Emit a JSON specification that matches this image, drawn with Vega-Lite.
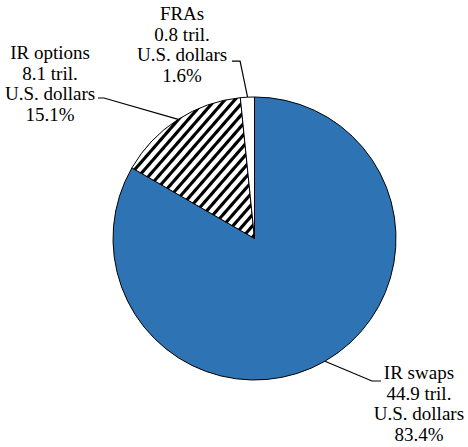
{
  "$schema": "https://vega.github.io/schema/vega-lite/v6.json",
  "width": 468,
  "height": 447,
  "padding": 0,
  "autosize": {"type": "none"},
  "background": "white",
  "config": {"view": {"stroke": null}},
  "datasets": {
    "slices": [
      {"name": "IR swaps", "share": 83.4, "idx": 1},
      {"name": "IR options", "share": 15.1, "idx": 2},
      {"name": "FRAs", "share": 1.6, "idx": 3}
    ],
    "labels": [
      {"name": "FRAs", "lx": -0.512, "ly": 1.650, "label": "FRAs\n0.8 tril.\nU.S. dollars\n1.6%"},
      {"name": "IR options", "lx": -1.445, "ly": 1.372, "label": "IR options\n8.1 tril.\nU.S. dollars\n15.1%"},
      {"name": "IR swaps", "lx": 1.162, "ly": -0.890, "label": "IR swaps\n44.9 tril.\nU.S. dollars\n83.4%"}
    ],
    "leaders": [
      {"name": "IR options", "k": 1, "lx": -1.106, "ly": 0.993},
      {"name": "IR options", "k": 2, "lx": -1.064, "ly": 0.993},
      {"name": "IR options", "k": 3, "lx": -0.539, "ly": 0.842},
      {"name": "FRAs", "k": 1, "lx": -0.159, "ly": 1.254},
      {"name": "FRAs", "k": 2, "lx": -0.102, "ly": 1.254},
      {"name": "FRAs", "k": 3, "lx": -0.049, "ly": 0.999},
      {"name": "IR swaps", "k": 1, "lx": 0.498, "ly": -0.867},
      {"name": "IR swaps", "k": 2, "lx": 0.830, "ly": -1.007},
      {"name": "IR swaps", "k": 3, "lx": 0.894, "ly": -1.007}
    ]
  },
  "layer": [
    {
      "data": {"name": "slices"},
      "mark": {"type": "arc", "outerRadius": 141.5, "stroke": "black", "strokeWidth": 1},
      "encoding": {
        "x": {"datum": 0, "type": "quantitative", "scale": {"domain": [-1.7986, 1.5088], "nice": false, "zero": false}, "axis": null},
        "y": {"datum": 0, "type": "quantitative", "scale": {"domain": [-1.4735, 1.6855], "nice": false, "zero": false}, "axis": null},
        "theta": {"field": "share", "type": "quantitative", "stack": true},
        "order": {"field": "idx", "type": "quantitative"},
        "fill": {
          "condition": [
            {"test": "datum.name === 'IR options'", "value": {
              "gradient": "linear", "x1": 0, "y1": 0, "x2": 1, "y2": 1,
              "stops": [
                {"offset": 0, "color": "white"},
                {"offset": 0.016, "color": "white"}, {"offset": 0.021, "color": "black"}, {"offset": 0.033, "color": "black"}, {"offset": 0.038, "color": "white"},
                {"offset": 0.056, "color": "white"}, {"offset": 0.061, "color": "black"}, {"offset": 0.073, "color": "black"}, {"offset": 0.078, "color": "white"},
                {"offset": 0.096, "color": "white"}, {"offset": 0.101, "color": "black"}, {"offset": 0.113, "color": "black"}, {"offset": 0.118, "color": "white"},
                {"offset": 0.136, "color": "white"}, {"offset": 0.141, "color": "black"}, {"offset": 0.153, "color": "black"}, {"offset": 0.158, "color": "white"},
                {"offset": 0.176, "color": "white"}, {"offset": 0.181, "color": "black"}, {"offset": 0.193, "color": "black"}, {"offset": 0.198, "color": "white"},
                {"offset": 0.216, "color": "white"}, {"offset": 0.221, "color": "black"}, {"offset": 0.233, "color": "black"}, {"offset": 0.238, "color": "white"},
                {"offset": 0.256, "color": "white"}, {"offset": 0.261, "color": "black"}, {"offset": 0.273, "color": "black"}, {"offset": 0.278, "color": "white"},
                {"offset": 0.296, "color": "white"}, {"offset": 0.301, "color": "black"}, {"offset": 0.313, "color": "black"}, {"offset": 0.318, "color": "white"},
                {"offset": 0.336, "color": "white"}, {"offset": 0.341, "color": "black"}, {"offset": 0.353, "color": "black"}, {"offset": 0.358, "color": "white"},
                {"offset": 0.376, "color": "white"}, {"offset": 0.381, "color": "black"}, {"offset": 0.393, "color": "black"}, {"offset": 0.398, "color": "white"},
                {"offset": 0.416, "color": "white"}, {"offset": 0.421, "color": "black"}, {"offset": 0.433, "color": "black"}, {"offset": 0.438, "color": "white"},
                {"offset": 0.456, "color": "white"}, {"offset": 0.461, "color": "black"}, {"offset": 0.473, "color": "black"}, {"offset": 0.478, "color": "white"},
                {"offset": 0.496, "color": "white"}, {"offset": 0.501, "color": "black"}, {"offset": 0.513, "color": "black"}, {"offset": 0.518, "color": "white"},
                {"offset": 0.536, "color": "white"}, {"offset": 0.541, "color": "black"}, {"offset": 0.553, "color": "black"}, {"offset": 0.558, "color": "white"},
                {"offset": 0.576, "color": "white"}, {"offset": 0.581, "color": "black"}, {"offset": 0.593, "color": "black"}, {"offset": 0.598, "color": "white"},
                {"offset": 0.616, "color": "white"}, {"offset": 0.621, "color": "black"}, {"offset": 0.633, "color": "black"}, {"offset": 0.638, "color": "white"},
                {"offset": 0.656, "color": "white"}, {"offset": 0.661, "color": "black"}, {"offset": 0.673, "color": "black"}, {"offset": 0.678, "color": "white"},
                {"offset": 0.696, "color": "white"}, {"offset": 0.701, "color": "black"}, {"offset": 0.713, "color": "black"}, {"offset": 0.718, "color": "white"},
                {"offset": 0.736, "color": "white"}, {"offset": 0.741, "color": "black"}, {"offset": 0.753, "color": "black"}, {"offset": 0.758, "color": "white"},
                {"offset": 0.776, "color": "white"}, {"offset": 0.781, "color": "black"}, {"offset": 0.793, "color": "black"}, {"offset": 0.798, "color": "white"},
                {"offset": 0.816, "color": "white"}, {"offset": 0.821, "color": "black"}, {"offset": 0.833, "color": "black"}, {"offset": 0.838, "color": "white"},
                {"offset": 0.856, "color": "white"}, {"offset": 0.861, "color": "black"}, {"offset": 0.873, "color": "black"}, {"offset": 0.878, "color": "white"},
                {"offset": 0.896, "color": "white"}, {"offset": 0.901, "color": "black"}, {"offset": 0.913, "color": "black"}, {"offset": 0.918, "color": "white"},
                {"offset": 0.936, "color": "white"}, {"offset": 0.941, "color": "black"}, {"offset": 0.953, "color": "black"}, {"offset": 0.958, "color": "white"},
                {"offset": 0.976, "color": "white"}, {"offset": 0.981, "color": "black"}, {"offset": 0.993, "color": "black"}, {"offset": 0.998, "color": "white"},
                {"offset": 1, "color": "white"}
              ]
            }},
            {"test": "datum.name === 'FRAs'", "value": "white"}
          ],
          "value": "#2e74b5"
        }
      }
    },
    {
      "data": {"name": "leaders"},
      "mark": {"type": "line", "color": "black", "strokeWidth": 1.2, "interpolate": "linear"},
      "encoding": {
        "x": {"field": "lx", "type": "quantitative"},
        "y": {"field": "ly", "type": "quantitative"},
        "detail": {"field": "name"},
        "order": {"field": "k", "type": "quantitative"}
      }
    },
    {
      "data": {"name": "labels"},
      "mark": {"type": "text", "font": "Liberation Serif", "fontSize": 19, "lineBreak": "\n", "lineHeight": 20.5, "align": "center", "baseline": "top", "color": "black"},
      "encoding": {
        "x": {"field": "lx", "type": "quantitative"},
        "y": {"field": "ly", "type": "quantitative"},
        "text": {"field": "label"}
      }
    }
  ]
}
